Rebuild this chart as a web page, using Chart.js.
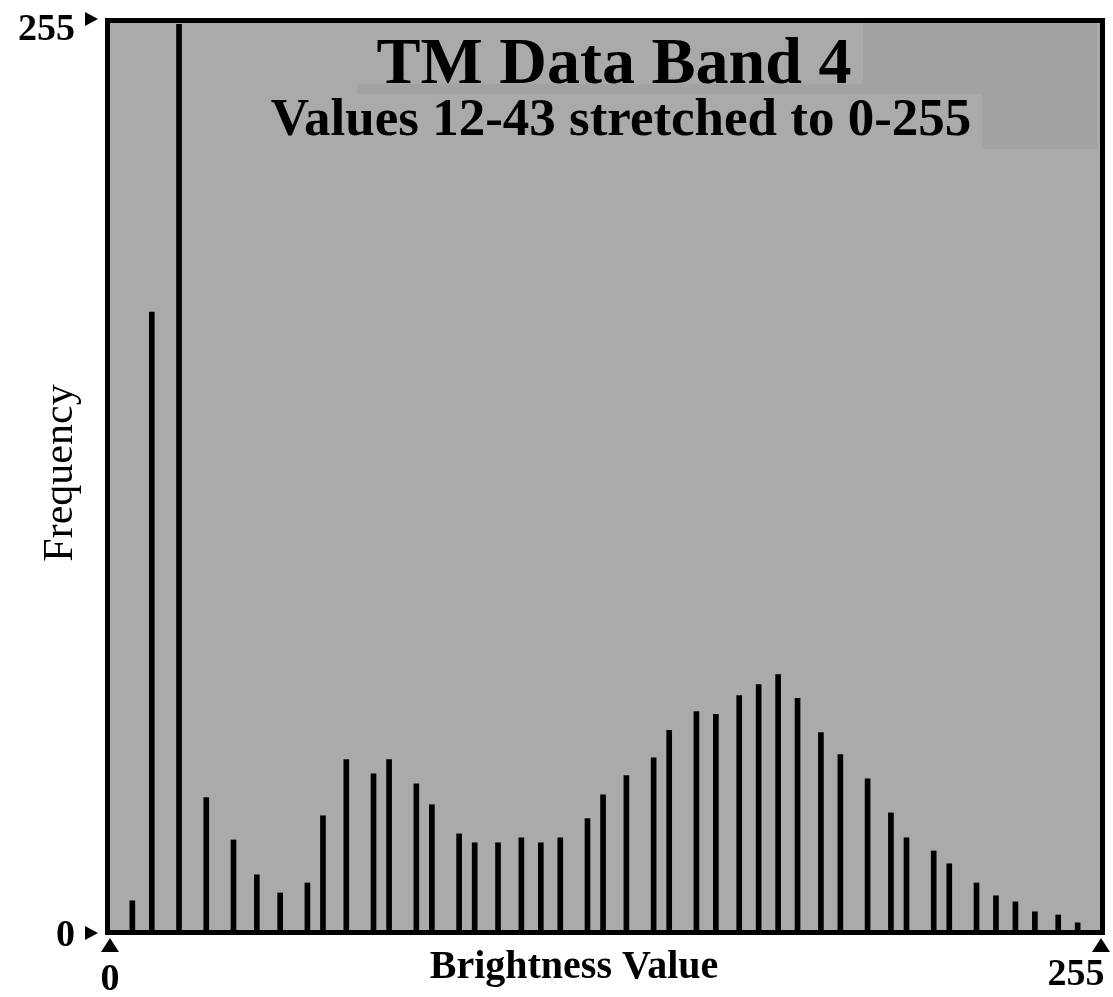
<!DOCTYPE html>
<html>
<head>
<meta charset="utf-8">
<title>TM Data Band 4</title>
<script src="https://cdn.jsdelivr.net/npm/chart.js@4"></script>
<style>
  body { margin: 0; background: #fff; }
  canvas { display: block; }
</style>
</head>
<body>
<canvas id="histogram" width="1113" height="997"></canvas>
<script>
// brightness value (0-255) of each histogram bar
const brightness = [6, 11, 18, 25, 32, 38, 44, 51, 55, 61, 68, 72, 79, 83, 90, 94,
  100, 106, 111, 116, 123, 127, 133, 140, 144, 151, 156, 162, 167, 172, 177,
  183, 188, 195, 201, 205, 212, 216, 223, 228, 233, 238, 244, 249];
// frequency, on the 0-255 scale of the frame
const frequency = [8.5, 174, 255, 37.5, 25.6, 15.8, 10.7, 13.5, 32.4, 48.2, 44.2, 48.2,
  41.4, 35.5, 27.3, 24.8, 24.8, 26.2, 24.8, 26.2, 31.6, 38.3, 43.7, 48.7, 56.4,
  61.7, 60.9, 66.2, 69.3, 72.1, 65.4, 55.8, 49.6, 42.8, 33.2, 26.2, 22.5, 18.9,
  13.5, 9.9, 8.2, 5.4, 4.5, 2.3];
const xTicks = [0, 255];
const yTicks = [0, 255];
const titleText = "TM Data Band 4";
const subtitleText = "Values 12-43 stretched to 0-255";

const serif = '"Liberation Serif", "DejaVu Serif", serif';

// gray frame background and the darker patch behind the title
const framePlugin = {
  id: "frame",
  beforeDatasetsDraw(chart) {
    const ctx = chart.ctx;
    const a = chart.chartArea;
    ctx.save();
    ctx.fillStyle = "#aaaaaa";
    ctx.fillRect(a.left - 4, a.top - 6, a.right - a.left + 8, a.bottom - a.top + 6);
    ctx.fillStyle = "#a2a2a2";
    ctx.fillRect(863, a.top - 1, a.right - 4 - 863, 126);
    ctx.fillRect(357, 84, 863 - 357, 10);
    ctx.fillStyle = "#aaaaaa";
    ctx.fillRect(268, 94, 982 - 268, 56);
    ctx.restore();
  },
  afterDatasetsDraw(chart) {
    const ctx = chart.ctx;
    const a = chart.chartArea;
    const x = chart.scales.x;
    const y = chart.scales.y;
    ctx.save();
    ctx.strokeStyle = "#000";
    ctx.lineWidth = 5;
    ctx.strokeRect(a.left - 1.5, a.top - 3.5, a.right - a.left + 3, a.bottom - a.top + 5);

    ctx.fillStyle = "#000";
    ctx.textAlign = "center";
    ctx.textBaseline = "alphabetic";
    ctx.font = "bold 66px " + serif;
    ctx.fillText(titleText, 614, 83);
    ctx.font = "bold 53px " + serif;
    ctx.fillText(subtitleText, 621, 135);

    // y axis end labels with pointers
    ctx.font = "bold 38px " + serif;
    ctx.textAlign = "right";
    yTicks.forEach(v => {
      const py = v === 0 ? y.getPixelForValue(v) + 2 : y.getPixelForValue(v) - 5;
      ctx.fillText(String(v), 75, v === 0 ? py + 13 : py + 21);
      ctx.beginPath();
      ctx.moveTo(85, py - 7);
      ctx.lineTo(85, py + 7);
      ctx.lineTo(98, py);
      ctx.closePath();
      ctx.fill();
    });

    // x axis end labels with pointers
    ctx.textAlign = "center";
    xTicks.forEach(v => {
      const px = v === 0 ? x.getPixelForValue(v) + 1 : x.getPixelForValue(v);
      ctx.beginPath();
      ctx.moveTo(px - 9, 952);
      ctx.lineTo(px + 9, 952);
      ctx.lineTo(px, 938);
      ctx.closePath();
      ctx.fill();
      ctx.fillText(String(v), v === 0 ? px : px - 25, v === 0 ? 990 : 985);
    });

    ctx.font = "bold 40px " + serif;
    ctx.fillText("Brightness Value", 574, 978);

    ctx.translate(72, 473);
    ctx.rotate(-Math.PI / 2);
    ctx.font = "42px " + serif;
    ctx.fillText("Frequency", 0, 0);
    ctx.restore();
  }
};

const ctxHist = document.querySelector("#histogram").getContext("2d");

const histChart = new Chart(ctxHist, {
  type: "bar",
  data: {
    datasets: [{
      label: "Frequency",
      data: brightness.map((b, i) => ({ x: b, y: frequency[i] })),
      backgroundColor: "#000",
      borderWidth: 0,
      barThickness: 5
    }]
  },
  options: {
    responsive: false,
    animation: false,
    layout: { padding: { left: 109, right: 12, top: 24, bottom: 66 } },
    scales: {
      x: { type: "linear", min: 0, max: 255, offset: false, display: false },
      y: { min: 0, max: 255, display: false }
    },
    plugins: {
      legend: { display: false },
      tooltip: { enabled: false }
    }
  },
  plugins: [framePlugin]
});
</script>
</body>
</html>
